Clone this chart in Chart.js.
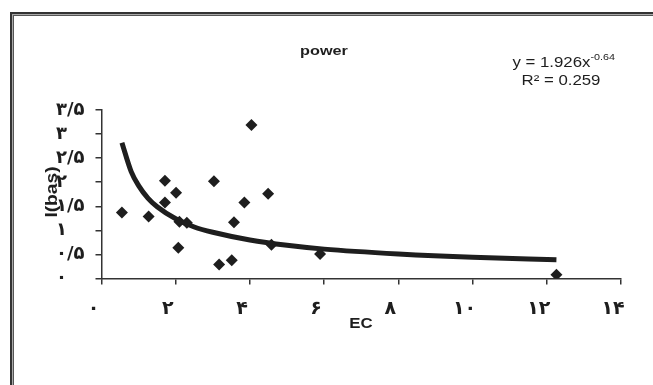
<!DOCTYPE html>
<html><head><meta charset="utf-8">
<script src="https://cdn.jsdelivr.net/npm/chart.js@4"></script>
<style>
html,body{margin:0;padding:0;background:#fff;}
#wrap{position:relative;width:653px;height:385px;overflow:hidden;background:#fff;}
#f1{position:absolute;left:10px;top:12px;width:800px;height:500px;border-left:2px solid #333;border-top:2px solid #333;}
#f2{position:absolute;left:12px;top:14px;width:800px;height:500px;border-left:1px solid #aaa;border-top:1px solid #aaa;}
#f3{position:absolute;left:13px;top:15px;width:800px;height:500px;border-left:1px solid #555;border-top:1px solid #555;}
canvas{position:absolute;left:0;top:0;}
</style></head>
<body>
<div id="wrap"><div id="f1"></div><div id="f2"></div><div id="f3"></div>
<canvas id="c" width="653" height="385"></canvas></div>
<script>
const chartTitle = 'power';
const xTitle = 'EC';
const yTitle = 'I(bas)';
const eqMain = 'y = 1.926x';
const eqSup = '-0.64';
const rSquared = 'R\u00B2 = 0.259';
const ecValues   = [0.55, 1.27, 1.71, 1.71, 2.01, 2.10, 2.07, 2.30, 3.03, 3.17, 3.51, 3.57, 3.85, 4.04, 4.49, 4.58, 5.89, 12.26];
const ibasValues = [1.37, 1.29, 2.03, 1.58, 1.78, 1.18, 0.64, 1.16, 2.02, 0.29, 0.38, 1.17, 1.58, 3.19, 1.76, 0.70, 0.51, 0.08];
const trendX = [0.55, 0.8, 1, 1.25, 1.5, 2, 2.5, 3, 4, 5, 6, 8, 10, 12.26];
const trendY = [2.82, 2.22, 1.93, 1.67, 1.49, 1.24, 1.07, 0.96, 0.80, 0.69, 0.61, 0.51, 0.44, 0.39];
const xTickLabels = ['۰','۲','۴','۶','۸','۱۰','۱۲','۱۴'];
const yTickLabels = ['۰','۰/۵','۱','۱/۵','۲','۲/۵','۳','۳/۵'];

const pts = ecValues.map((x,i)=>({x, y: ibasValues[i]}));
const trend = trendX.map((x,i)=>({x, y: trendY[i]}));

const FONT = '"Liberation Sans", Arial, sans-serif';
const DIGITS = '"DejaVu Sans", sans-serif';
const INK = '#1e1e1e';

const textPlugin = {
  id: 'texts',
  afterDraw(chart){
    const c = chart.ctx;
    c.save();
    c.fillStyle = INK;
    c.textAlign = 'center';
    c.textBaseline = 'alphabetic';
    function stretched(txt, x, y, font, sx){
      c.save(); c.translate(x, y); c.scale(sx, 1); c.font = font; c.fillText(txt, 0, 0); c.restore();
    }
    stretched(chartTitle, 324, 55, 'bold 13px ' + FONT, 1.25);
    stretched(xTitle, 361, 328, 'bold 14px ' + FONT, 1.2);
    c.save(); c.translate(53, 192); c.rotate(-Math.PI/2); c.scale(1.2, 1); c.font = 'bold 16px ' + FONT; c.textBaseline='middle'; c.fillText(yTitle, 0, 0); c.restore();
    // equation
    c.textAlign = 'left';
    const sx = 1.2;
    c.font = '14px ' + FONT; const w1 = c.measureText(eqMain).width * sx;
    c.font = '9px ' + FONT; const w2 = c.measureText(eqSup).width * sx;
    const x0 = 615 - w1 - w2;
    c.save(); c.translate(x0, 67); c.scale(sx,1); c.font = '14px ' + FONT; c.fillText(eqMain, 0, 0); c.restore();
    c.save(); c.translate(x0 + w1, 60); c.scale(sx,1); c.font = '9px ' + FONT; c.fillText(eqSup, 0, 0); c.restore();
    c.textAlign = 'center';
    stretched(rSquared, 561, 85, '14px ' + FONT, sx);
    c.restore();
  }
};

new Chart(document.getElementById('c'), {
  type: 'scatter',
  data: {
    datasets: [
      { data: trend, showLine: true, pointRadius: 0, borderColor: INK, borderWidth: 5,
        cubicInterpolationMode: 'monotone', fill: false, order: 1 },
      { data: pts, pointStyle: 'rectRot', pointRadius: 6, backgroundColor: INK, borderColor: INK,
        borderWidth: 0, showLine: false, order: 0 }
    ]
  },
  options: {
    responsive: false, animation: false,
    layout: { padding: { left: 56, top: 110, right: 32, bottom: 0 } },
    plugins: { legend: { display: false }, tooltip: { enabled: false }, title: { display: false } },
    scales: {
      x: {
        type: 'linear', min: 0, max: 14,
        afterFit(s){ s.height = 385 - 278.5; },
        grid: { display: true, drawOnChartArea: false, drawTicks: true, tickLength: 6, color: '#333', lineWidth: 1.5 },
        border: { display: true, color: '#333', width: 1.5 },
        ticks: { stepSize: 2, color: INK, font: { family: DIGITS, size: 19, weight: 'bold' }, padding: 13, labelOffset: -8,
          maxRotation: 0, autoSkip: false,
          callback: (v, i) => xTickLabels[i] }
      },
      y: {
        min: 0, max: 3.5,
        afterFit(s){ s.width = 101.5 - 56; },
        grid: { display: true, drawOnChartArea: false, drawTicks: true, tickLength: 6, color: '#333', lineWidth: 1.5 },
        border: { display: true, color: '#333', width: 1.5 },
        ticks: { stepSize: 0.5, color: INK, crossAlign: 'far', autoSkip: false, font: { family: DIGITS, size: 18, weight: 'bold', lineHeight: 1 }, padding: 4,
          callback: (v, i) => yTickLabels[i] }
      }
    }
  },
  plugins: [textPlugin]
});
</script>
</body></html>
